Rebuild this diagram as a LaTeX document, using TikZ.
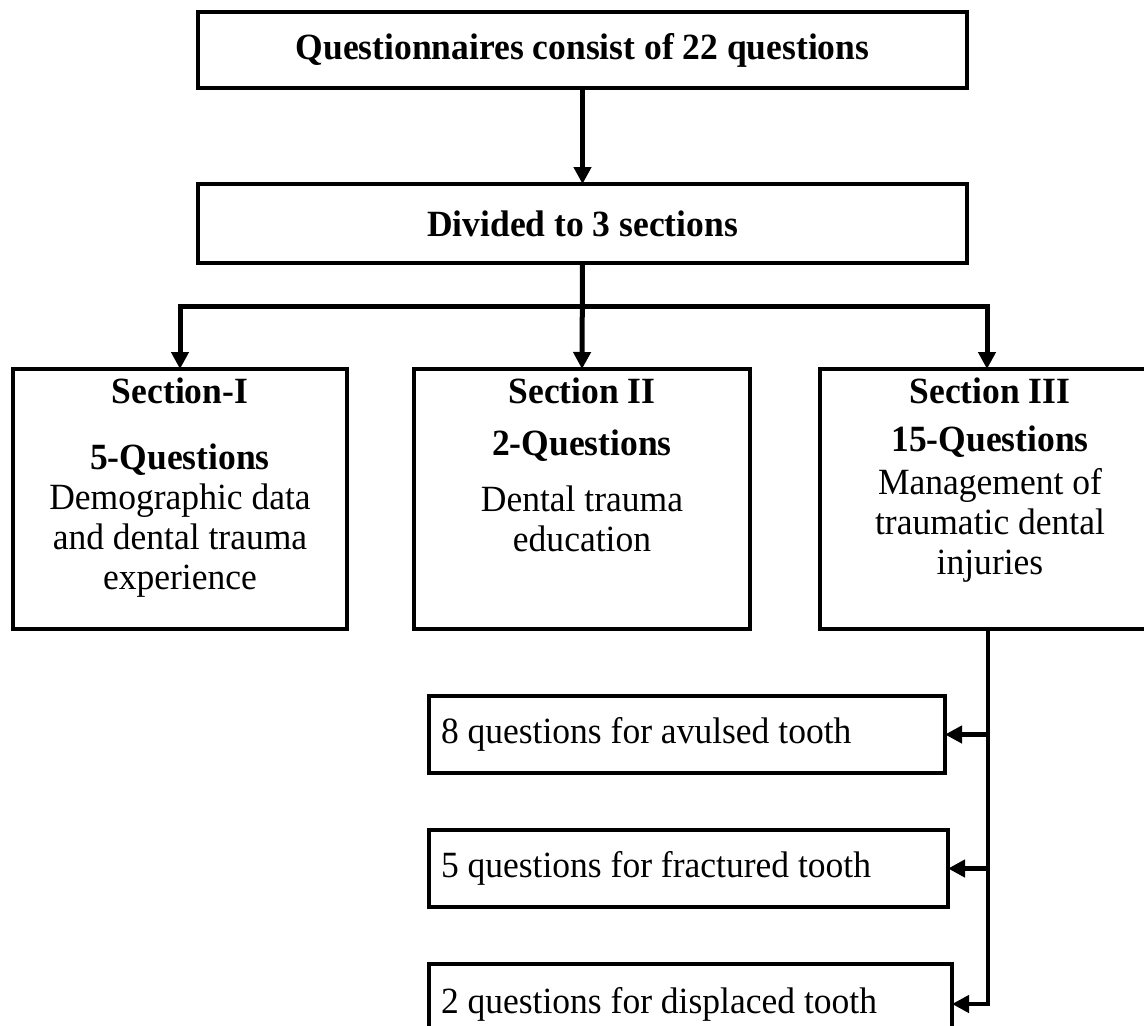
\documentclass[tikz,border=0pt]{standalone}
\usepackage{fontspec}
\setmainfont{Liberation Serif}[FakeStretch=0.96]
\usetikzlibrary{arrows.meta,calc}
\begin{document}
\begin{tikzpicture}[x=1pt,y=-1pt,
  box/.style={draw,line width=4pt,rectangle,inner sep=0pt,outer sep=0pt},
  boldtxt/.style={font=\fontsize{37}{40}\selectfont\bfseries},
  sectxt/.style={font=\fontsize{37}{40}\selectfont,align=center,inner sep=0pt,anchor=north},
  subbox/.style={box,inner xsep=12pt,align=flush left,font=\fontsize{37}{40}\selectfont,minimum height=77pt},
  arr/.style={line width=5pt,line join=miter,-{Triangle[length=17pt,width=17pt]}},
  arrthin/.style={arr,line width=4.5pt}
]
\useasboundingbox (0,0) rectangle (1144,1026);
\clip (0,0) rectangle (1144,1026);
\fill[white] (0,0) rectangle (1144,1026);

% top boxes
\node[box,boldtxt,minimum width=769pt,minimum height=76pt] (q) at (582.5,50) {Questionnaires consist of 22 questions};
\node[box,boldtxt,minimum width=769pt,minimum height=79pt] (d) at (582.5,223.5) {Divided to 3 sections};

% section boxes
\node[box,minimum width=334pt,minimum height=260pt] (s1) at (180,499) {};
\node[box,minimum width=336pt,minimum height=260pt] (s2) at (582,499) {};
\node[box,minimum width=340pt,minimum height=260pt] (s3) at (990,499) {};

\node[sectxt] (s1t) at ($(s1.north)+(0,9)$) {\textbf{Section-I}\\[26pt]\textbf{5-Questions}\\Demographic data\\and dental trauma\\experience};
\node[sectxt] (s2t) at ($(s2.north)+(0,9)$) {\textbf{Section II}\\[12pt]\textbf{2-Questions}\\[16pt]Dental trauma\\education};
\node[sectxt] (s3t) at ($(s3.north)+(0,9)$) {\textbf{Section III}\\[8pt]\textbf{15-Questions}\\[3pt]Management of\\traumatic dental\\injuries};

% sub boxes
\node[subbox,text width=492pt] (a) at (687,734.5) {8 questions for avulsed tooth};
\node[subbox,text width=495pt] (b) at (688.5,868.5) {5 questions for fractured tooth};
\node[subbox,text width=499pt,minimum height=80pt] (c) at (690.5,1004) {2 questions for displaced tooth};

% connectors
\coordinate (bus) at (0,306);
\coordinate (rx) at (987,0);
\coordinate (t0) at (988,629);

\draw[arr] (q.south) -- (d.north);
\draw[arr] (d.south) -- (s2.north);
\draw[arr] (d.south) -- (d.south |- bus) -| (s1.north);
\draw[arr] (d.south) -- (d.south |- bus) -| (rx |- s3.north);

\draw[arrthin] (t0) |- (a.east);
\draw[arrthin] (t0) |- (b.east);
\draw[arrthin] (t0) |- (c.east);
\end{tikzpicture}
\end{document}
